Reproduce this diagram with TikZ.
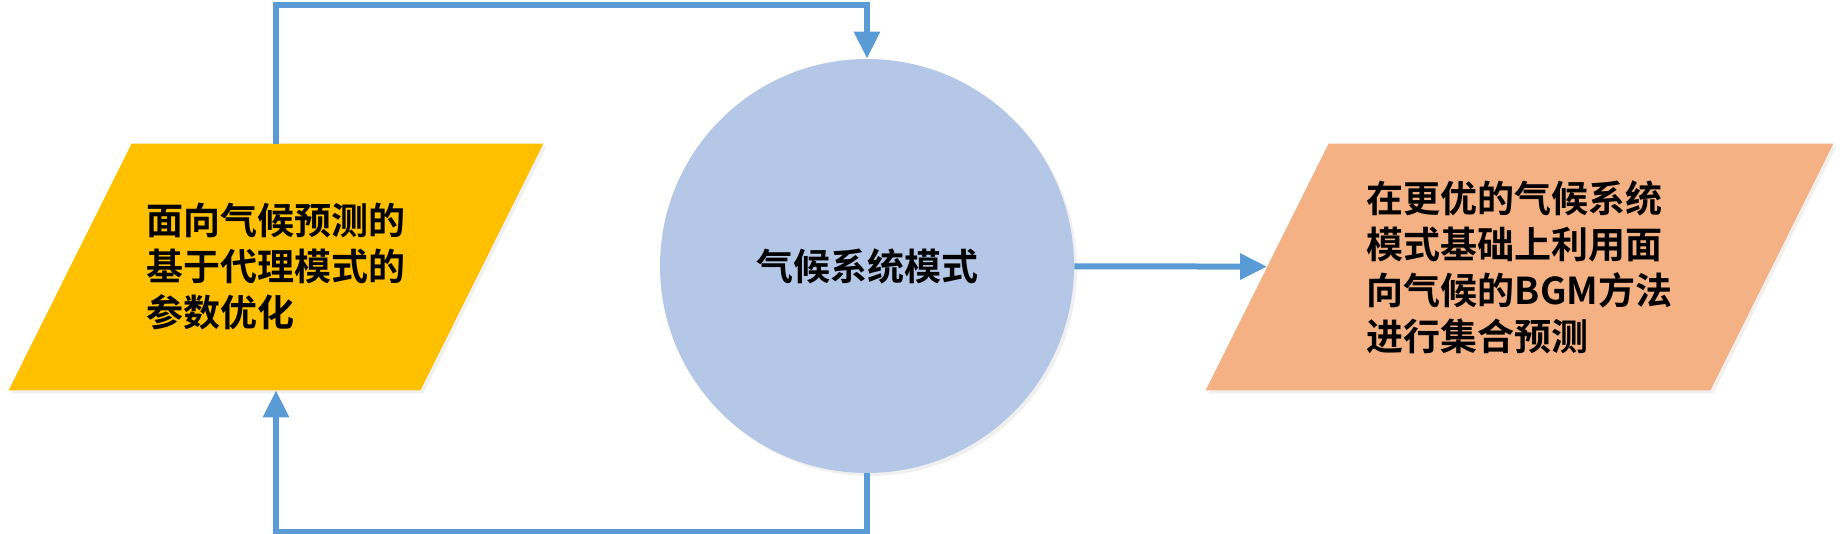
\documentclass[tikz,border=0pt]{standalone}
\usepackage{fontspec}
\usepackage{tikz}
\usetikzlibrary{arrows.meta,shadows,calc,backgrounds}

\newfontfamily\cjkbold{Noto Sans CJK SC Bold}

\definecolor{paramyellow}{HTML}{FFC000}
\definecolor{resultorange}{HTML}{F4B183}
\definecolor{modelblue}{HTML}{B4C7E7}
\definecolor{flowblue}{HTML}{5B9BD5}

% slanted fill behind a rectangular node
\newcommand{\slantfill}[2]{
    \fill[#2, softshadow]
        ($(#1.south west)+(-61.5,0)$) -- ($(#1.south east)+(-61.5,0)$) --
        ($(#1.north east)+(61.5,0)$) -- ($(#1.north west)+(61.5,0)$) -- cycle;
}

\begin{document}
\begin{tikzpicture}[
        x=0.5pt, y=0.5pt,
        softshadow/.style={
            drop shadow={opacity=0.12, shadow xshift=1.5pt, shadow yshift=-1.5pt}
        },
        slanted/.style={
            rectangle,
            minimum height=123pt,
            inner sep=0pt,
            align=left
        },
        model/.style={
            circle,
            fill=modelblue,
            minimum size=207pt,
            inner sep=0pt,
            softshadow
        },
        flow/.style={
            draw=flowblue,
            line width=3pt,
            -{Triangle[length=13.5pt,width=12.5pt]}
        },
        every node/.style={font=\cjkbold\fontsize{18.5pt}{23pt}\selectfont}
    ]
        \useasboundingbox (0,0) rectangle (1845,534);

        % Shapes
        \node[slanted, minimum width=205.5pt] (param) at (276,267)
            {面向气候预测的\\基于代理模式的\\参数优化};
        \node[model] (climate) at (867,268) {气候系统模式};
        \node[slanted, minimum width=252pt] (result) at (1519.5,267)
            {在更优的气候系统\\模式基础上利用面\\向气候的BGM方法\\进行集合预测};

        \begin{scope}[on background layer]
            \slantfill{param}{paramyellow}
            \slantfill{result}{resultorange}
        \end{scope}

        % Feedback loop
        \draw[flow] (param.north) -- ++(0,139) -| (climate.north);
        \draw[flow] (climate.south) -- ++(0,-59) -| (param.south);

        % Output
        \draw[flow] (climate) -- (result);
    \end{tikzpicture}
\end{document}
